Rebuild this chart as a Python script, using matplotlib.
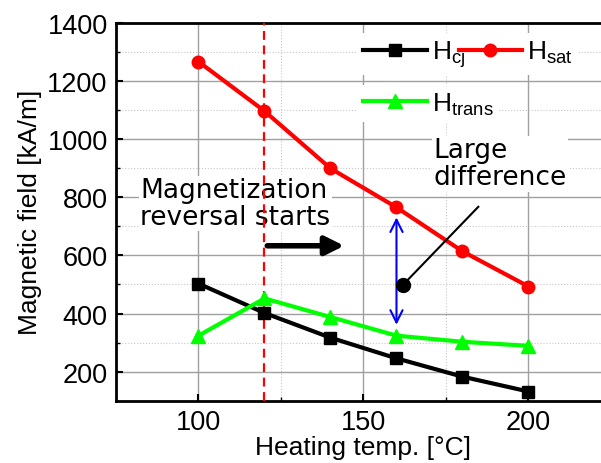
import numpy as np
import matplotlib
matplotlib.use("Agg")
import matplotlib.pyplot as plt
from matplotlib.ticker import MultipleLocator

plt.rcParams['font.family'] = ['Liberation Sans', 'DejaVu Sans']
plt.rcParams['mathtext.fontset'] = 'custom'
plt.rcParams['mathtext.rm'] = 'Liberation Sans'
plt.rcParams['mathtext.it'] = 'Liberation Sans'

# data
temps = [100, 120, 140, 160, 180, 200]
h_cj = [503, 402, 317, 246, 183, 132]
h_sat = [1266, 1096, 899, 765, 614, 493]
h_trans = [324, 452, 388, 324, 303, 289]

fig = plt.figure(figsize=(6.01, 4.64), dpi=100)
ax = fig.add_axes([0.193, 0.134, 0.8236, 0.815])

l1, = ax.plot(temps, h_cj, color='black', lw=3, marker='s', ms=8, zorder=4)
l2, = ax.plot(temps, h_sat, color='red', lw=3, marker='o', ms=9, zorder=4)
l3, = ax.plot(temps, h_trans, color='#00ff00', lw=3, marker='^', ms=10, zorder=4)

ax.set_xlim(75, 225)
ax.set_ylim(100, 1400)
ax.xaxis.set_major_locator(MultipleLocator(50))
ax.xaxis.set_minor_locator(MultipleLocator(25))
ax.yaxis.set_major_locator(MultipleLocator(200))
ax.yaxis.set_minor_locator(MultipleLocator(100))
ax.set_yticks(range(200, 1401, 200))
ax.grid(which='major', color='#a0a0a0', lw=1.0, ls='-')
ax.grid(which='minor', color='#c8c8c8', lw=0.8, ls=':')
ax.set_axisbelow(True)
ax.tick_params(which='major', direction='in', length=5, width=1.5, labelsize=19.5, pad=6)
ax.tick_params(which='minor', direction='in', length=3, width=1)
for s in ['left', 'bottom', 'top']:
    ax.spines[s].set_linewidth(2)
ax.spines['right'].set_visible(False)

ax.set_xlabel('Heating temp. [°C]', fontsize=19, labelpad=0)
ax.set_ylabel('Magnetic field [kA/m]', fontsize=19, labelpad=4)

# onset line
ax.axvline(120, color='red', ls=(0, (4, 2.5)), lw=1.6, zorder=3)

ax.text(82.4, 778, 'Magnetization\nreversal starts', fontsize=19, family='DejaVu Sans',
        ha='left', va='center', linespacing=1.05, zorder=2,
        bbox=dict(facecolor='white', edgecolor='none', pad=1))
ax.annotate('', xy=(145, 633), xytext=(120, 633),
            arrowprops=dict(arrowstyle='-|>', lw=4, color='black', mutation_scale=28), zorder=5)

# difference
ax.annotate('', xy=(160, 740), xytext=(160, 352),
            arrowprops=dict(arrowstyle='<->', lw=1.5, color='blue', mutation_scale=22), zorder=5)
ax.plot([162, 184.8], [499, 767], color='black', lw=1.5, zorder=5)
ax.plot([162], [499], 'o', color='black', ms=10, zorder=6)
ax.text(171.2, 915, 'Large\ndifference', fontsize=19, family='DejaVu Sans',
        ha='left', va='center', linespacing=1.05, zorder=2,
        bbox=dict(facecolor='white', edgecolor='none', pad=1))

# legend: two rows built separately
leg_kw = dict(fontsize=19, loc='upper left', handlelength=2.4, handletextpad=0.2,
              frameon=True, fancybox=False, borderaxespad=0, borderpad=0.2)
leg1 = ax.legend([l1, l2], [r'H$_{\mathrm{cj}}$', r'H$_{\mathrm{sat}}$'], ncol=2,
                 columnspacing=-0.25, bbox_to_anchor=(0.489, 0.972), **leg_kw)
leg1.get_frame().set_edgecolor('none')
leg1.get_frame().set_alpha(1)
ax.add_artist(leg1)
leg2 = ax.legend([l3], [r'H$_{\mathrm{trans}}$'], bbox_to_anchor=(0.489, 0.834), **leg_kw)
leg2.get_frame().set_edgecolor('none')
leg2.get_frame().set_alpha(1)

fig.savefig('out.png', dpi=100)
